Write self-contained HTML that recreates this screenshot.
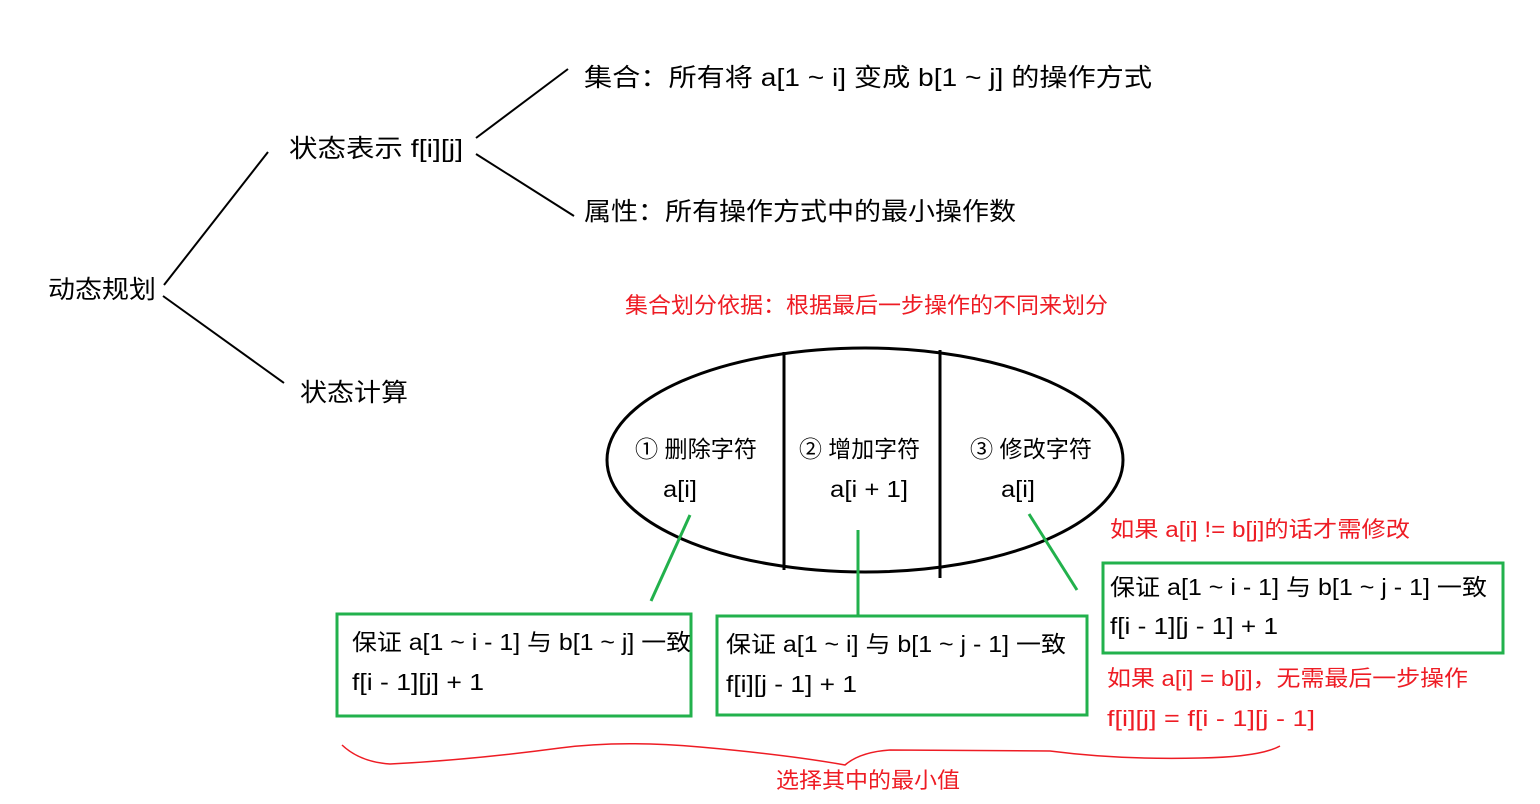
<!DOCTYPE html>
<html><head><meta charset="utf-8"><style>
body{margin:0;background:#fff;}
svg{display:block}
text{font-family:"Liberation Sans","Noto Sans CJK SC",sans-serif;}
</style></head><body>
<svg width="1540" height="804" viewBox="0 0 1540 804" xmlns="http://www.w3.org/2000/svg">
<g stroke="#000" stroke-width="2" fill="none">
<line x1="164" y1="285" x2="268" y2="152"/>
<line x1="163" y1="296" x2="284" y2="383"/>
<line x1="476" y1="138" x2="568" y2="69"/>
<line x1="476" y1="154" x2="574" y2="216"/>
<ellipse cx="865" cy="460" rx="258" ry="112" stroke-width="3"/>
<line x1="784" y1="352" x2="784" y2="570" stroke-width="3"/>
<line x1="940" y1="350" x2="940" y2="578" stroke-width="3"/>
</g>
<g font-size="25" fill="#000" lengthAdjust="spacingAndGlyphs">
<text x="48" y="298" textLength="108" lengthAdjust="spacingAndGlyphs">动态规划</text>
<text x="289" y="157" textLength="174" lengthAdjust="spacingAndGlyphs">状态表示 f[i][j]</text>
<text x="300" y="401" textLength="108" lengthAdjust="spacingAndGlyphs">状态计算</text>
<text x="584" y="86" textLength="568" lengthAdjust="spacingAndGlyphs">集合：所有将 a[1 ~ i] 变成 b[1 ~ j] 的操作方式</text>
<text x="584" y="220" textLength="432" lengthAdjust="spacingAndGlyphs">属性：所有操作方式中的最小操作数</text>
</g>
<g font-size="23" fill="#000">
<text x="635" y="457" textLength="122" lengthAdjust="spacingAndGlyphs">① 删除字符</text>
<text x="663" y="497" textLength="34" lengthAdjust="spacingAndGlyphs">a[i]</text>
<text x="799" y="457" textLength="121" lengthAdjust="spacingAndGlyphs">② 增加字符</text>
<text x="830" y="497" textLength="78" lengthAdjust="spacingAndGlyphs">a[i + 1]</text>
<text x="970" y="457" textLength="122" lengthAdjust="spacingAndGlyphs">③ 修改字符</text>
<text x="1001" y="497" textLength="34" lengthAdjust="spacingAndGlyphs">a[i]</text>
</g>
<g fill="#ee1c24" font-size="22">
<text x="625" y="313" textLength="483" lengthAdjust="spacingAndGlyphs">集合划分依据：根据最后一步操作的不同来划分</text>
<text x="1110" y="537" textLength="300" lengthAdjust="spacingAndGlyphs">如果 a[i] != b[j]的话才需修改</text>
<text x="1107" y="686" textLength="361" lengthAdjust="spacingAndGlyphs">如果 a[i] = b[j]，无需最后一步操作</text>
<text x="1107" y="726" textLength="208" lengthAdjust="spacingAndGlyphs">f[i][j] = f[i - 1][j - 1]</text>
<text x="776" y="788" textLength="184" lengthAdjust="spacingAndGlyphs">选择其中的最小值</text>
</g>
<g stroke="#22b14c" stroke-width="3" fill="none">
<line x1="690" y1="515" x2="651" y2="601"/>
<line x1="858" y1="530" x2="858" y2="615"/>
<line x1="1029" y1="514" x2="1077" y2="590"/>
<rect x="337" y="614" width="354" height="102"/>
<rect x="717" y="616" width="370" height="99"/>
<rect x="1103" y="563" width="400" height="90"/>
</g>
<g font-size="23" fill="#000">
<text x="352" y="650" textLength="339" lengthAdjust="spacingAndGlyphs">保证 a[1 ~ i - 1] 与 b[1 ~ j] 一致</text>
<text x="352" y="690" textLength="132" lengthAdjust="spacingAndGlyphs">f[i - 1][j] + 1</text>
<text x="726" y="652" textLength="340" lengthAdjust="spacingAndGlyphs">保证 a[1 ~ i] 与 b[1 ~ j - 1] 一致</text>
<text x="726" y="692" textLength="131" lengthAdjust="spacingAndGlyphs">f[i][j - 1] + 1</text>
<text x="1110" y="595" textLength="377" lengthAdjust="spacingAndGlyphs">保证 a[1 ~ i - 1] 与 b[1 ~ j - 1] 一致</text>
<text x="1110" y="634" textLength="168" lengthAdjust="spacingAndGlyphs">f[i - 1][j - 1] + 1</text>
</g>
<path d="M342 745 Q360 762 390 764 Q470 760 560 748 Q620 740 700 747 Q790 755 845 765 Q860 752 890 750 L1050 751 Q1120 760 1200 758 Q1260 757 1280 746" stroke="#ee1c24" stroke-width="1.5" fill="none"/>
</svg>
</body></html>
